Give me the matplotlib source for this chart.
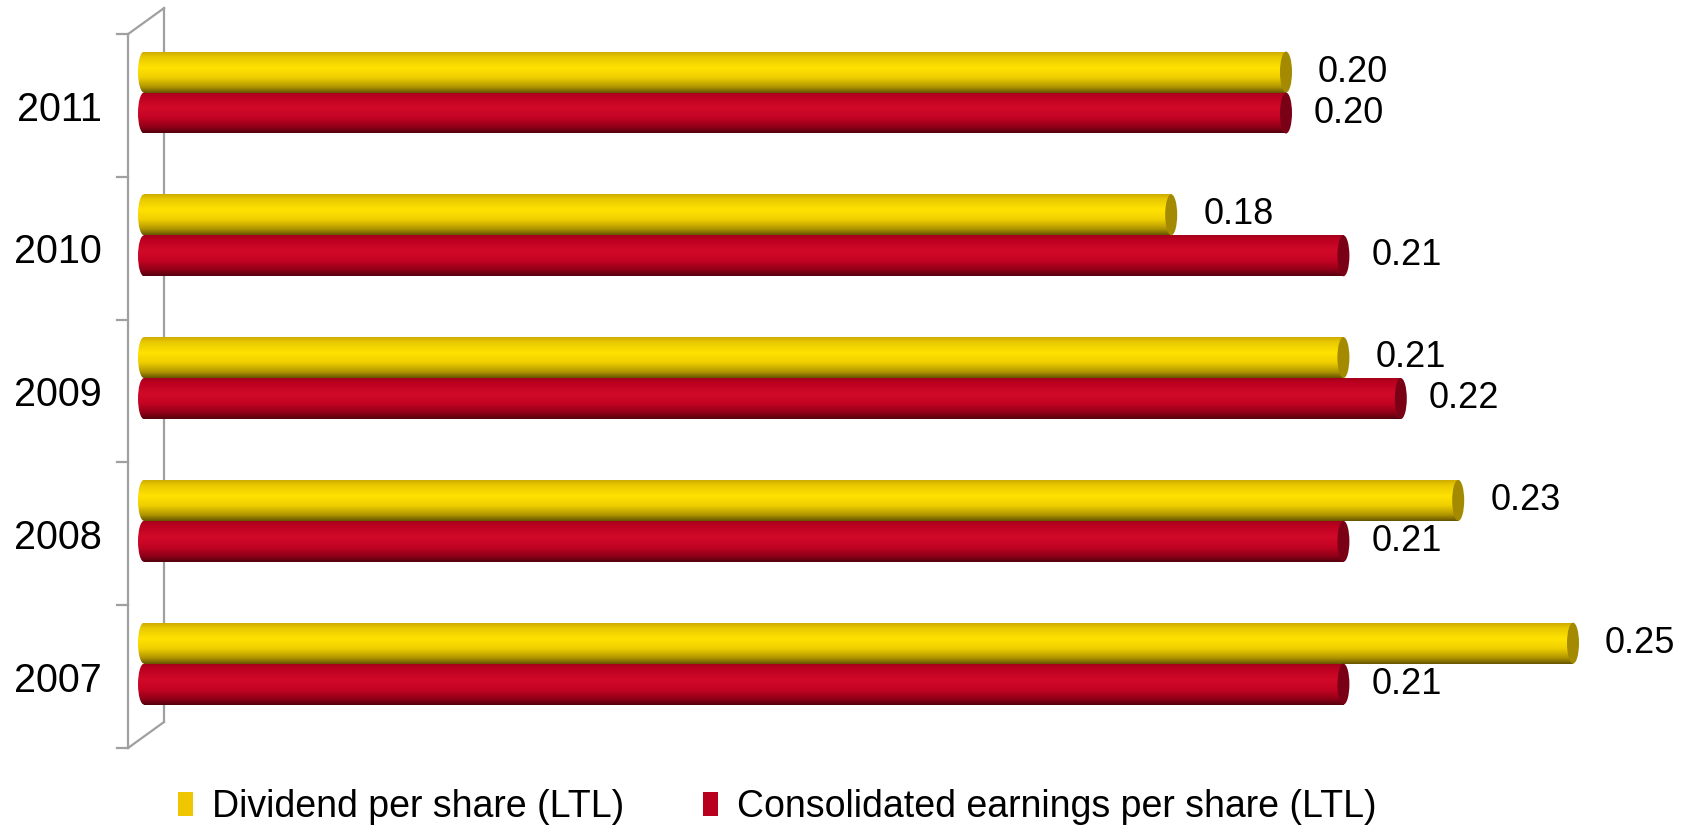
import matplotlib.pyplot as plt
import numpy as np
from matplotlib.patches import Ellipse, Patch
from matplotlib.colors import LinearSegmentedColormap

years = ['2007', '2008', '2009', '2010', '2011']
dividend = [0.25, 0.23, 0.21, 0.18, 0.20]
earnings = [0.21, 0.21, 0.22, 0.21, 0.20]
series_names = ['Dividend per share (LTL)', 'Consolidated earnings per share (LTL)']

plt.rcParams['font.family'] = ['Liberation Sans', 'DejaVu Sans']

W, H = 1682, 831
PX = 5740.0          # pixels per unit on x
X0 = 144             # pixel where x = 0
fig = plt.figure(figsize=(W / 100, H / 100), dpi=100)
ax = fig.add_axes([104 / W, 56 / H, (W - 104) / W, 775 / H])
ax.set_xlim(-40 / PX, (W - X0) / PX)
ax.set_ylim(-0.78, 4.648)
ax.axis('off')

bh = 0.287           # bar height
cap = 12 / PX        # width of the elliptic end caps
depth_x = 18 / PX    # half depth of the 3d frame
depth_y = 0.091

yellow = LinearSegmentedColormap.from_list('y', [
    (0, '#CDAC00'), (0.12, '#E8C800'), (0.38, '#FFE200'), (0.62, '#F0CF00'),
    (0.85, '#B09500'), (1, '#655400')])
red = LinearSegmentedColormap.from_list('r', [
    (0, '#A5001B'), (0.12, '#BC0020'), (0.38, '#D20A29'), (0.62, '#C40424'),
    (0.85, '#900017'), (1, '#52000D')])
grad = np.linspace(0, 1, 256).reshape(-1, 1)


def cylinder(y, v, cmap, cap_color):
    x1 = v - cap / 2
    body = ax.barh(y, x1, height=bh, left=0, color='none', edgecolor='none')[0]
    left_end = Ellipse((0, y), cap, bh, facecolor='none', edgecolor='none')
    ax.add_patch(left_end)
    for clip in (body, left_end):
        im = ax.imshow(grad, cmap=cmap, extent=[-cap, x1, y - bh / 2, y + bh / 2],
                       aspect='auto', origin='upper', zorder=2)
        im.set_clip_path(clip)
    ax.add_patch(Ellipse((x1, y), cap, bh, facecolor=cap_color,
                         edgecolor='none', zorder=3))


ys = np.arange(len(years))
for i, y in enumerate(ys):
    cylinder(y + bh / 2, dividend[i], yellow, '#A38A00')
    cylinder(y - bh / 2, earnings[i], red, '#7A0016')
    ax.text(dividend[i] + 26 / PX, y + bh / 2, '%.2f' % dividend[i],
            fontsize=26, va='center', ha='left')
    ax.text(earnings[i] + 22 / PX, y - bh / 2, '%.2f' % earnings[i],
            fontsize=26, va='center', ha='left')
    ax.text(-42 / PX, y - 0.12, years[i], fontsize=28.5,
            va='center', ha='right')

# 3d frame of the category axis
gc = '#A0A0A0'
lo, hi = -0.5, len(years) - 0.5
fx, bx = -depth_x + 2 / PX, depth_x + 2 / PX
kw = dict(color=gc, lw=1.6, clip_on=False, zorder=1)
ax.plot([fx, fx], [lo - depth_y, hi - depth_y], **kw)
ax.plot([bx, bx], [lo + depth_y, hi + depth_y], **kw)
ax.plot([fx, bx], [hi - depth_y, hi + depth_y], **kw)
ax.plot([fx, bx], [lo - depth_y, lo + depth_y], **kw)
for k in np.arange(lo, hi + 1):
    ax.plot([fx - 11 / PX, fx], [k - depth_y, k - depth_y], **kw)

handles = [Patch(facecolor='#F0C600'), Patch(facecolor='#B8001E')]
fig.legend(handles, series_names, loc='center', bbox_to_anchor=(0.462, 1 - 807 / H),
           ncol=2, frameon=False, fontsize=27, handlelength=0.4, handleheight=0.6,
           handletextpad=0.5, columnspacing=2.1)

fig.savefig('out.png', dpi=100)
